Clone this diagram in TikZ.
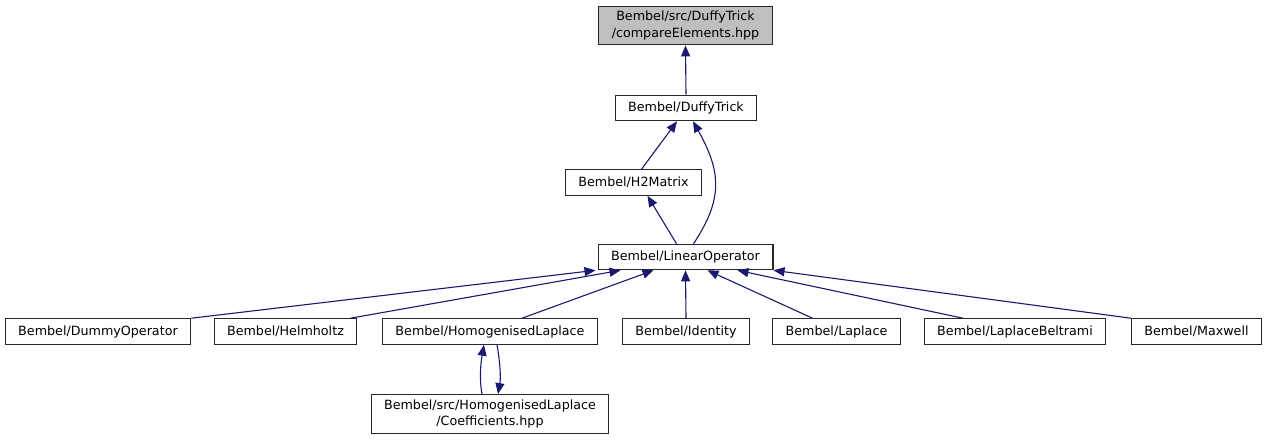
\documentclass[tikz,border=0pt]{standalone}
\usepackage{fontspec}
\setmainfont{DejaVu Sans}
\usepackage{xcolor}
\usepackage{tikz}
\usetikzlibrary{arrows.meta}
\definecolor{edgeblue}{RGB}{25,25,112}
\definecolor{rootgray}{RGB}{191,191,191}
\definecolor{boxline}{RGB}{40,40,40}

\begin{document}
\begin{tikzpicture}[x=1pt,y=-1pt,font=\fontsize{12.7}{16.5}\selectfont,
  >={Triangle[length=11pt,width=9pt]},
  box/.style={draw=boxline,line width=1.1pt,fill=white,inner xsep=13pt,inner ysep=5pt,
    minimum height=25.5pt,align=center},
  dep/.style={->,edgeblue,line width=1.1pt}]
\useasboundingbox (0,0) rectangle (1267,440);
\node[box,fill=rootgray] (cmp) at (685.5,25.5) {Bembel/src/DuffyTrick\\/compareElements.hpp};
\node[box] (duffy) at (686,108) {Bembel/DuffyTrick};
\node[box] (h2) at (633.5,182.5) {Bembel/H2Matrix};
\node[box] (linop) at (685.5,257) {Bembel/LinearOperator};
\node[box] (dummy) at (98,331.5) {Bembel/DummyOperator};
\node[box] (helm) at (285.5,331.5) {Bembel/Helmholtz};
\node[box] (homog) at (490,331.5) {Bembel/HomogenisedLaplace};
\node[box] (ident) at (686,331.5) {Bembel/Identity};
\node[box] (lap) at (836.5,331.5) {Bembel/Laplace};
\node[box] (lapbel) at (1015,331.5) {Bembel/LaplaceBeltrami};
\node[box] (maxw) at (1196.5,331.5) {Bembel/Maxwell};
\node[box] (coef) at (490,414) {Bembel/src/HomogenisedLaplace\\/Coefficients.hpp};
\draw[dep] (duffy.north) -- (cmp.south);
\draw[dep] ([xshift=8pt]h2.north) -- ([xshift=-9pt]duffy.south);
\draw[dep] ([xshift=8pt]linop.north) .. controls +(30,-45) and +(28,50) .. ([xshift=7pt]duffy.south);
\draw[dep] ([xshift=-9pt]linop.north) -- ([xshift=14pt]h2.south);
\draw[dep] (dummy.north east) -- ([xshift=-2pt]linop.south west);
\draw[dep] ([xshift=-7pt]helm.north east) -- ([xshift=23pt]linop.south west);
\draw[dep] ([xshift=32pt]homog.north) -- ([xshift=-32pt]linop.south);
\draw[dep] (ident.north) -- (linop.south);
\draw[dep] ([xshift=-24pt]lap.north) -- ([xshift=22pt]linop.south);
\draw[dep] ([xshift=-52pt]lapbel.north) -- ([xshift=52pt]linop.south);
\draw[dep] (maxw.north west) -- (linop.south east);
\draw[dep] ([xshift=-8pt]coef.north) .. controls +(-3,-17) and +(-3,17) .. ([xshift=-6pt]homog.south);
\draw[dep] ([xshift=7pt]homog.south) .. controls +(3,17) and +(3,-17) .. ([xshift=8pt]coef.north);
\end{tikzpicture}
\end{document}
